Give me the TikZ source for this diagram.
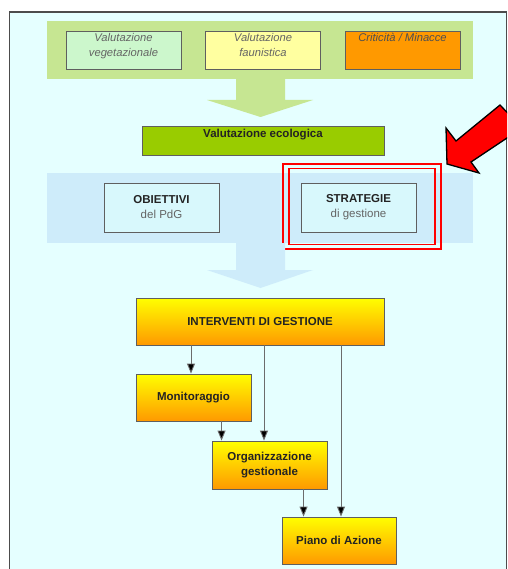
\documentclass[tikz,border=0pt]{standalone}
\usepackage{fontspec}
\setmainfont{Liberation Sans}
\usetikzlibrary{positioning,arrows.meta}
\definecolor{bgcyan}{RGB}{229,255,255}
\definecolor{bandgreen}{RGB}{198,230,146}
\definecolor{bandblue}{RGB}{206,236,250}
\definecolor{vegfill}{RGB}{204,247,204}
\definecolor{faufill}{RGB}{255,255,160}
\definecolor{crifill}{RGB}{255,153,0}
\definecolor{ecofill}{RGB}{153,204,0}
\definecolor{boxcyan}{RGB}{216,248,252}
\definecolor{boxline}{RGB}{95,95,95}
\definecolor{txtgray}{RGB}{100,100,100}
\definecolor{txtdark}{RGB}{35,35,35}
\begin{document}
\begin{tikzpicture}[x=1pt,y=-1pt,
  box/.style={draw=boxline,line width=0.9pt,minimum width=115pt,minimum height=38pt,inner sep=0pt},
  toptext/.style={font=\fontsize{11.2}{15}\selectfont\itshape,text=txtgray,align=center,inner sep=0pt},
  boldtext/.style={font=\fontsize{11.5}{15}\selectfont\bfseries,text=txtdark,align=center},
  gradbox/.style={box,top color=yellow,bottom color=crifill,font=\fontsize{11.5}{15}\selectfont\bfseries,text=txtdark,align=center},
  conn/.style={draw=gray!85!black,line width=0.9pt,-{Triangle[length=10pt,width=8pt,fill=black]}}]
\useasboundingbox (0,0) rectangle (507,569);
\clip (0,0) rectangle (507,569);
\fill[bgcyan] (9.5,12) rectangle (506.5,569);
\draw[gray!60!black,line width=1.2pt] (9.5,569) -- (9.5,12) -- (506.5,12) -- (506.5,569);
\fill[bandgreen] (47,21) rectangle (473,79);
\node[box,fill=vegfill] (veg) at (123.5,50) {};
\node[box,fill=faufill] (fau) at (263,50) {};
\node[box,fill=crifill] (cri) at (402.5,50) {};
\node[toptext,below=2.5pt of veg.north] (vegtxt) {Valutazione\\vegetazionale};
\node[toptext,below=2.5pt of fau.north] (fautxt) {Valutazione\\faunistica};
\node[toptext,text=txtdark!80,below=2.5pt of cri.north] (critxt) {Criticità / Minacce};
\fill[bandgreen] (236,79) -- (285,79) -- (285,100) -- (313,100) -- (260.5,117) -- (207,100) -- (236,100) -- cycle;
\node[box,fill=ecofill,minimum width=242pt,minimum height=29pt] (eco) at (263,140.5) {};
\node[boldtext,inner sep=0pt,below=3pt of eco.north] (ecotxt) {Valutazione ecologica};
\fill[bandblue] (47,173) rectangle (473,243);
\node[box,fill=boxcyan,minimum height=49pt,boldtext] (obi) at (161.5,207.5) {OBIETTIVI\\{\mdseries\color{txtgray}del PdG}};
\node[box,fill=boxcyan,minimum height=49pt,boldtext] (str) at (358.5,207.5) {STRATEGIE\\{\mdseries\color{txtgray}di gestione}};
\draw[red,line width=1.8pt] (283,164) rectangle (441,249);
\draw[red,line width=1.8pt] (289,168.5) rectangle (435,244.5);
\fill[bandblue] (236,243) -- (285,243) -- (285,270) -- (313,270) -- (260.5,288) -- (207,270) -- (236,270) -- cycle;
\node[gradbox,minimum width=248pt,minimum height=47pt] (interv) at (260,321.5) {INTERVENTI DI GESTIONE};
\node[gradbox,minimum height=47pt] (mon) at (193.5,397.5) {Monitoraggio};
\node[gradbox,minimum height=48pt] (org) at (269.5,465) {Organizzazione\\gestionale};
\node[gradbox,minimum width=114pt,minimum height=47pt] (piano) at (339,540.5) {Piano di Azione};
\draw[conn] ([xshift=-2.5pt]mon.north |- interv.south) -- ([xshift=-2.5pt]mon.north);
\draw[conn] ([xshift=-5.5pt]org.north |- interv.south) -- ([xshift=-5.5pt]org.north);
\draw[conn] ([xshift=2pt]piano.north |- interv.south) -- ([xshift=2pt]piano.north);
\draw[conn] ([xshift=10pt]org.north west |- mon.south) -- ([xshift=10pt]org.north west);
\draw[conn] ([xshift=22pt]piano.north west |- org.south) -- ([xshift=22pt]piano.north west);
\draw[fill=red,line width=1.3pt,line join=miter] (447,164) -- (446,128) -- (456,141) -- (500,105) -- (522,128) -- (471,162) -- (479,173) -- cycle;
\end{tikzpicture}
\end{document}
